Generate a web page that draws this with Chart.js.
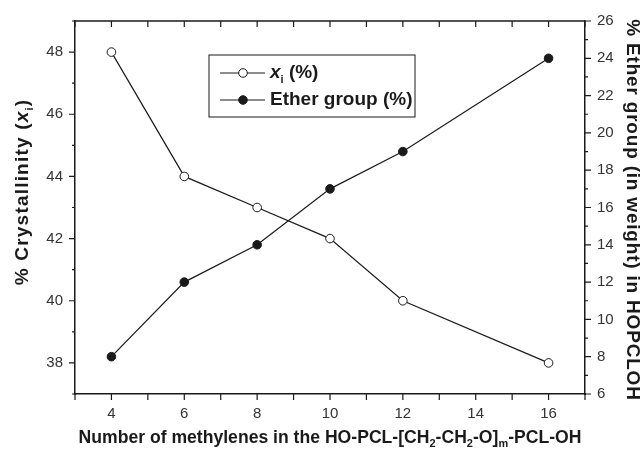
<!DOCTYPE html>
<html>
<head>
<meta charset="utf-8">
<script src="https://cdn.jsdelivr.net/npm/chart.js@4"></script>
<style>
  body { margin: 0; background: #fff; }
  #wrap { width: 643px; height: 453px; }
</style>
</head>
<body>
<div id="wrap"><canvas id="chart"></canvas></div>
<script>
// data
const methylenes = [4, 6, 8, 10, 12, 16];
const crystallinity = [48, 44, 43, 42, 40, 38];
const etherGroup = [8, 12, 14, 17, 19, 24];

const FONT = '"Liberation Sans", Arial, sans-serif';
const INK = '#1a1a1a';

// draws text made of pieces (italic / subscript)
function richText(ctx, parts, x, y, size, align, spacing) {
  const fontOf = p => (p.italic ? 'italic ' : '') + 'bold ' + (p.sub ? Math.round(size * 0.6) : size) + 'px ' + FONT;
  ctx.letterSpacing = (spacing || 0) + 'px';
  let total = 0;
  parts.forEach(p => { ctx.font = fontOf(p); total += ctx.measureText(p.t).width; });
  let cx = align === 'center' ? x - total / 2 : x;
  ctx.textAlign = 'left';
  ctx.textBaseline = 'middle';
  parts.forEach(p => {
    ctx.font = fontOf(p);
    ctx.fillText(p.t, cx, p.sub ? y + size * 0.35 : y);
    cx += ctx.measureText(p.t).width;
  });
  ctx.letterSpacing = '0px';
}

const decorations = {
  id: 'decorations',
  afterDraw(chart) {
    const ctx = chart.ctx;
    const a = chart.chartArea;
    const sx = chart.scales.x, sy = chart.scales.y, sy2 = chart.scales.y2;
    ctx.save();
    ctx.strokeStyle = INK;
    ctx.fillStyle = INK;
    ctx.lineWidth = 1.5;

    // top frame line
    ctx.beginPath();
    ctx.moveTo(a.left, a.top);
    ctx.lineTo(a.right, a.top);
    ctx.stroke();

    ctx.lineWidth = 1.2;
    ctx.beginPath();
    // x ticks: outward at bottom, inward at top
    for (let v = sx.min; v <= sx.max; v++) {
      const px = sx.getPixelForValue(v);
      ctx.moveTo(px, a.bottom); ctx.lineTo(px, a.bottom + 6);
      ctx.moveTo(px, a.top); ctx.lineTo(px, a.top + 6);
    }
    // left ticks
    for (let v = sy.min; v <= sy.max; v++) {
      const py = sy.getPixelForValue(v);
      const len = v % 2 === 0 ? 6 : 3;
      ctx.moveTo(a.left, py); ctx.lineTo(a.left - len, py);
    }
    // right ticks
    for (let v = sy2.min; v <= sy2.max; v++) {
      const py = sy2.getPixelForValue(v);
      const len = v % 2 === 0 ? 6 : 3;
      ctx.moveTo(a.right, py); ctx.lineTo(a.right + len, py);
    }
    ctx.stroke();

    // axis titles
    richText(ctx, [{t: 'Number of methylenes in the HO-PCL-[CH'}, {t: '2', sub: true}, {t: '-CH'},
      {t: '2', sub: true}, {t: '-O]'}, {t: 'm', sub: true}, {t: '-PCL-OH'}],
      330, 438, 17.6, 'center');

    ctx.save();
    ctx.translate(23, 192);
    ctx.rotate(-Math.PI / 2);
    richText(ctx, [{t: '% Crystallinity ('}, {t: 'x', italic: true}, {t: 'i', sub: true}, {t: ')'}], 0, 0, 19, 'center', 1.2);
    ctx.restore();

    ctx.save();
    ctx.translate(632, 210);
    ctx.rotate(Math.PI / 2);
    richText(ctx, [{t: '% Ether group (in weight) in HOPCLOH'}], 0, 0, 19, 'center', 0.8);
    ctx.restore();

    // legend box
    const lx = 209, ly = 55, lw = 206, lh = 62;
    ctx.lineWidth = 1;
    ctx.strokeRect(lx, ly, lw, lh);
    const rows = [
      {y: 73, fill: '#fff', parts: [{t: 'x', italic: true}, {t: 'i', sub: true}, {t: ' (%)'}]},
      {y: 100, fill: INK, parts: [{t: chart.data.datasets[1].label}]}
    ];
    rows.forEach(r => {
      ctx.lineWidth = 1;
      ctx.beginPath();
      ctx.moveTo(220, r.y); ctx.lineTo(265, r.y);
      ctx.stroke();
      ctx.beginPath();
      ctx.arc(243, r.y, 4.3, 0, Math.PI * 2);
      ctx.fillStyle = r.fill;
      ctx.fill();
      ctx.stroke();
      ctx.fillStyle = INK;
      richText(ctx, r.parts, 270, r.y, 19, 'left');
    });
    ctx.restore();
  }
};

new Chart(document.getElementById('chart'), {
  type: 'line',
  data: {
    datasets: [
      {
        label: 'xi (%)',
        data: methylenes.map((m, i) => ({x: m, y: crystallinity[i]})),
        yAxisID: 'y',
        borderColor: INK, borderWidth: 1.2,
        pointRadius: 4.3, pointHoverRadius: 4.3, pointBorderWidth: 1,
        pointBackgroundColor: '#fff', pointBorderColor: INK
      },
      {
        label: 'Ether group (%)',
        data: methylenes.map((m, i) => ({x: m, y: etherGroup[i]})),
        yAxisID: 'y2',
        borderColor: INK, borderWidth: 1.2,
        pointRadius: 4.3, pointHoverRadius: 4.3, pointBorderWidth: 1,
        pointBackgroundColor: INK, pointBorderColor: INK
      }
    ]
  },
  options: {
    responsive: true,
    maintainAspectRatio: false,
    animation: false,
    layout: { padding: { top: 21, left: 0, right: 0, bottom: 0 } },
    plugins: { legend: { display: false }, tooltip: { enabled: false } },
    scales: {
      x: {
        type: 'linear', min: 3, max: 17,
        grid: { display: false, drawTicks: false },
        border: { display: true, color: INK, width: 1.5 },
        ticks: {
          stepSize: 1, autoSkip: false, maxRotation: 0, padding: 11,
          color: '#333', font: { family: FONT, size: 15 },
          callback: v => (v % 2 === 0 && v >= 4 && v <= 16) ? v : ''
        },
        afterFit: s => { s.height = 59; }
      },
      y: {
        position: 'left', min: 37, max: 49,
        grid: { display: false, drawTicks: false },
        border: { display: true, color: INK, width: 1.5 },
        ticks: {
          stepSize: 1, autoSkip: false, padding: 12,
          color: '#333', font: { family: FONT, size: 15 },
          callback: v => (v % 2 === 0) ? v : ''
        },
        afterFit: s => { s.width = 75; }
      },
      y2: {
        position: 'right', min: 6, max: 26,
        grid: { display: false, drawTicks: false },
        border: { display: true, color: INK, width: 1.5 },
        ticks: {
          stepSize: 1, autoSkip: false, padding: 12,
          color: '#333', font: { family: FONT, size: 15 },
          callback: v => (v % 2 === 0) ? v : ''
        },
        afterFit: s => { s.width = 58; }
      }
    }
  },
  plugins: [decorations]
});
</script>
</body>
</html>
